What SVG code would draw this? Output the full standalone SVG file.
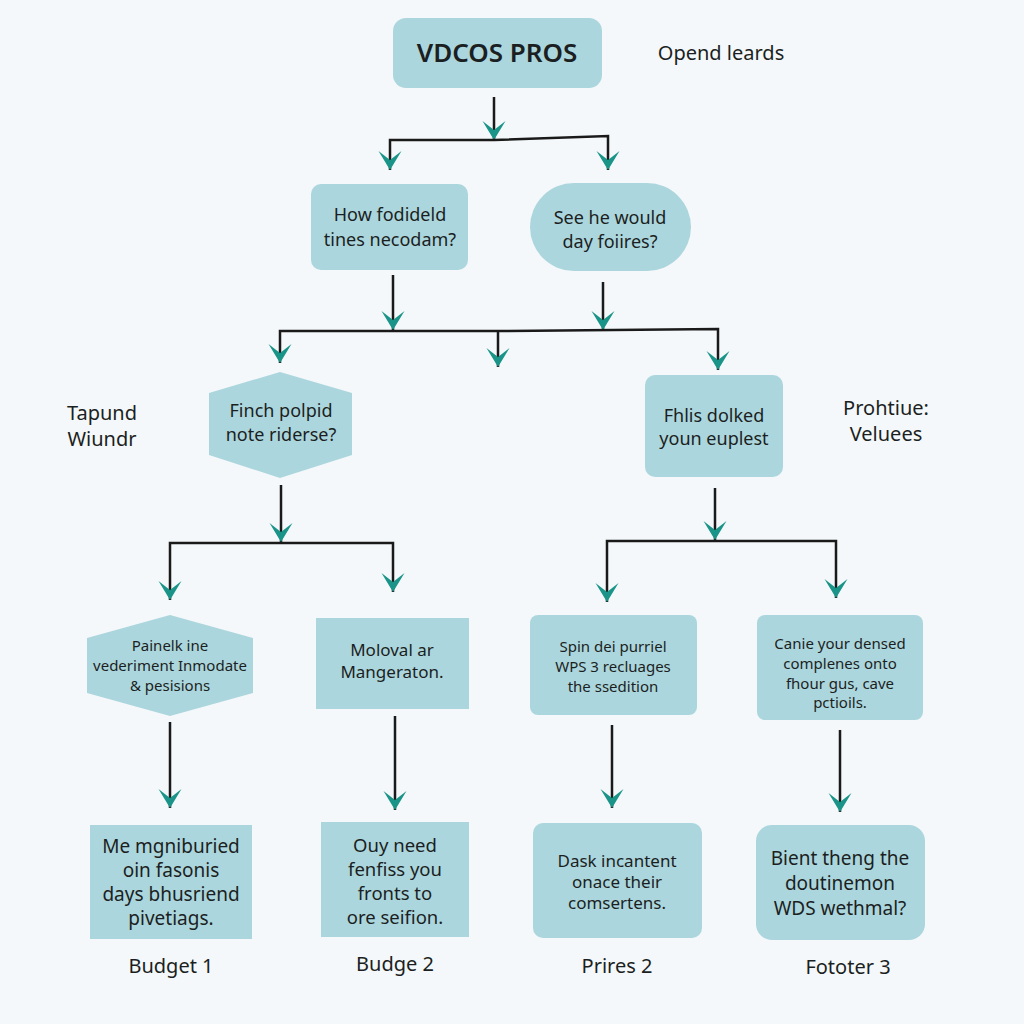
<svg xmlns="http://www.w3.org/2000/svg" width="1024" height="1024" viewBox="0 0 1024 1024">
<defs>
<style>
.bg{fill:#f4f8fa}
.n{fill:#acd6dd}
.t{font-family:"Noto Sans","Open Sans","Liberation Sans",sans-serif;fill:#1b1f22;text-anchor:middle}
.l{font-family:"Noto Sans","Open Sans","Liberation Sans",sans-serif;fill:#1b1f22;text-anchor:middle;font-size:20px}
.c{fill:none;stroke:#1a1a1a;stroke-width:2.5}
</style>
<marker id="ah" markerUnits="userSpaceOnUse" viewBox="-20 -13 21 26" markerWidth="21" markerHeight="26" refX="0" refY="0" orient="auto">
<path d="M0,0 L-19,-11.5 L-10,0 L-19,11.5 Z" fill="#1a9488"/>
</marker>
</defs>
<rect class="bg" x="0" y="0" width="1024" height="1024"/>

<g id="connectors">
<path class="c" d="M494,97 V140" marker-end="url(#ah)"/>
<path class="c" d="M494,140 H390 V170" marker-end="url(#ah)"/>
<path class="c" d="M494,140 L608,136 V170" marker-end="url(#ah)"/>
<path class="c" d="M393,275 V330" marker-end="url(#ah)"/>
<path class="c" d="M603,282 V330" marker-end="url(#ah)"/>
<path class="c" d="M498,331 H280 V363" marker-end="url(#ah)"/>
<path class="c" d="M498,331 V367" marker-end="url(#ah)"/>
<path class="c" d="M498,331 L718,329 V370" marker-end="url(#ah)"/>
<path class="c" d="M281,485 V542" marker-end="url(#ah)"/>
<path class="c" d="M281,543 H170 V600" marker-end="url(#ah)"/>
<path class="c" d="M281,543 H393 V592" marker-end="url(#ah)"/>
<path class="c" d="M715,488 V540" marker-end="url(#ah)"/>
<path class="c" d="M715,541 H607 V602" marker-end="url(#ah)"/>
<path class="c" d="M715,541 H836 V598" marker-end="url(#ah)"/>
<path class="c" d="M170,722 V808" marker-end="url(#ah)"/>
<path class="c" d="M395,716 V810" marker-end="url(#ah)"/>
<path class="c" d="M612,725 V808" marker-end="url(#ah)"/>
<path class="c" d="M840,730 V812" marker-end="url(#ah)"/>
</g>

<g id="root">
<rect class="n" x="393" y="18" width="209" height="70" rx="13"/>
<text class="t" x="497" y="62" font-size="26" font-weight="600">VDCOS PROS</text>
</g>
<g id="note-top">
<text class="l" x="721" y="60">Opend leards</text>
</g>

<g id="q1">
<rect class="n" x="311" y="184" width="157" height="86" rx="10"/>
<text class="t" x="390" y="221" font-size="18">How fodideld</text>
<text class="t" x="390" y="246" font-size="18">tines necodam?</text>
</g>
<g id="q2">
<rect class="n" x="530" y="183" width="161" height="88" rx="44"/>
<text class="t" x="610" y="224" font-size="18">See he would</text>
<text class="t" x="610" y="248" font-size="18">day foiires?</text>
</g>

<g id="hex1">
<polygon class="n" points="280,372 352,393 352,455 280,478 209,455 209,393"/>
<text class="t" x="281" y="417" font-size="18">Finch polpid</text>
<text class="t" x="281" y="441" font-size="18">note riderse?</text>
</g>
<g id="side-left">
<text class="l" x="102" y="420">Tapund</text>
<text class="l" x="102" y="446">Wiundr</text>
</g>
<g id="box-right">
<rect class="n" x="645" y="375" width="138" height="102" rx="10"/>
<text class="t" x="714" y="422" font-size="18">Fhlis dolked</text>
<text class="t" x="714" y="445" font-size="18">youn euplest</text>
</g>
<g id="side-right">
<text class="l" x="886" y="415">Prohtiue:</text>
<text class="l" x="886" y="441">Veluees</text>
</g>

<g id="hex2">
<polygon class="n" points="170,615 253,638 253,693 170,716 87,693 87,638"/>
<text class="t" x="170" y="651" font-size="15">Painelk ine</text>
<text class="t" x="170" y="671" font-size="15">vederiment Inmodate</text>
<text class="t" x="170" y="691" font-size="15">&amp; pesisions</text>
</g>
<g id="box-m">
<rect class="n" x="316" y="618" width="153" height="91"/>
<text class="t" x="392" y="656" font-size="17">Moloval ar</text>
<text class="t" x="392" y="678" font-size="17">Mangeraton.</text>
</g>
<g id="box-s">
<rect class="n" x="530" y="615" width="167" height="100" rx="8"/>
<text class="t" x="613" y="652" font-size="15">Spin dei purriel</text>
<text class="t" x="613" y="672" font-size="15">WPS 3 recluages</text>
<text class="t" x="613" y="692" font-size="15">the ssedition</text>
</g>
<g id="box-c">
<rect class="n" x="757" y="615" width="166" height="105" rx="8"/>
<text class="t" x="840" y="649" font-size="15">Canie your densed</text>
<text class="t" x="840" y="669" font-size="15">complenes onto</text>
<text class="t" x="840" y="689" font-size="15">fhour gus, cave</text>
<text class="t" x="840" y="708" font-size="15">pctioils.</text>
</g>

<g id="b1">
<rect class="n" x="90" y="825" width="162" height="114"/>
<text class="t" x="171" y="853" font-size="19">Me mgniburied</text>
<text class="t" x="171" y="877" font-size="19">oin fasonis</text>
<text class="t" x="171" y="901" font-size="19">days bhusriend</text>
<text class="t" x="171" y="925" font-size="19">pivetiags.</text>
</g>
<g id="b2">
<rect class="n" x="321" y="822" width="148" height="115"/>
<text class="t" x="395" y="852" font-size="18.5">Ouy need</text>
<text class="t" x="395" y="876" font-size="18.5">fenfiss you</text>
<text class="t" x="395" y="900" font-size="18.5">fronts to</text>
<text class="t" x="395" y="924" font-size="18.5">ore seifion.</text>
</g>
<g id="b3">
<rect class="n" x="533" y="823" width="169" height="115" rx="10"/>
<text class="t" x="617" y="867" font-size="17">Dask incantent</text>
<text class="t" x="617" y="888" font-size="17">onace their</text>
<text class="t" x="617" y="909" font-size="17">comsertens.</text>
</g>
<g id="b4">
<rect class="n" x="756" y="825" width="169" height="115" rx="16"/>
<text class="t" x="840" y="865" font-size="19">Bient theng the</text>
<text class="t" x="840" y="890" font-size="19">doutinemon</text>
<text class="t" x="840" y="915" font-size="19">WDS wethmal?</text>
</g>

<g id="labels">
<text class="l" x="171" y="973">Budget 1</text>
<text class="l" x="395" y="971">Budge 2</text>
<text class="l" x="617" y="973">Prires 2</text>
<text class="l" x="848" y="974">Fototer 3</text>
</g>
</svg>
